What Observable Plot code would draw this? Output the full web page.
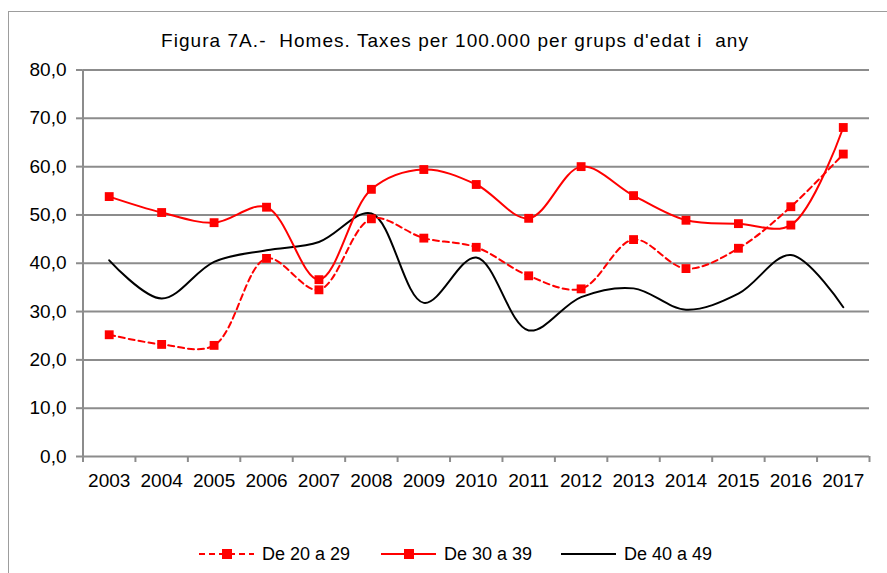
<!DOCTYPE html>
<html>
<head>
<meta charset="utf-8">
<script src="https://cdn.jsdelivr.net/npm/d3@7"></script>
<script src="https://cdn.jsdelivr.net/npm/@observablehq/plot@0.6"></script>
<style>
  html, body { margin: 0; padding: 0; background: #fff; }
  body { font-family: "Liberation Sans", Arial, sans-serif; }
  #wrap { position: relative; width: 887px; height: 573px; overflow: hidden; background: #fff; }
  #frame { position: absolute; left: 7.5px; top: 10.5px; width: 900px; height: 600px; border: 1.5px solid #9d9d9d; box-sizing: border-box; }
  #title { position: absolute; left: 0; top: 31px; width: 910px; text-align: center; font-size: 19px; line-height: 19px; letter-spacing: 1.05px; white-space: pre; color: #000; }
  #chart { position: absolute; left: 0; top: 0; }
  .leg { position: absolute; top: 544px; height: 20px; display: flex; align-items: center; font-size: 18px; white-space: pre; color: #000; }
  .leg svg { margin-right: 8px; }
</style>
</head>
<body>
<div id="wrap">
  <div id="frame"></div>
  <div id="chart"></div>
  <div id="title"></div>
  <div id="legend"></div>
</div>
<script>
const titleText = "Figura 7A.-  Homes. Taxes per 100.000 per grups d'edat i  any";
const years = [2003, 2004, 2005, 2006, 2007, 2008, 2009, 2010, 2011, 2012, 2013, 2014, 2015, 2016, 2017];
const s20_29 = [25.2, 23.2, 23.0, 41.0, 34.5, 49.2, 45.2, 43.3, 37.4, 34.7, 44.9, 38.9, 43.1, 51.7, 62.6];
const s30_39 = [53.8, 50.5, 48.4, 51.6, 36.6, 55.3, 59.4, 56.3, 49.3, 60.0, 54.0, 48.9, 48.2, 47.9, 68.1];
const s40_49 = [40.6, 32.7, 40.3, 42.7, 44.4, 50.3, 31.8, 41.2, 26.1, 33.0, 34.8, 30.4, 33.7, 41.7, 30.9];
const seriesNames = ["De 20 a 29", "De 30 a 39", "De 40 a 49"];
const yTicks = [0, 10, 20, 30, 40, 50, 60, 70, 80];

const toRows = (vals) => years.map((yr, i) => ({year: yr, value: vals[i]}));
const d20 = toRows(s20_29);
const d30 = toRows(s30_39);
const d40 = toRows(s40_49);
const bounds = [years[0] - 0.5, ...years.map(y => y + 0.5)];

const gray = "#8c8c8c";
const red = "#ff0000";

document.getElementById("title").textContent = titleText;

const plot = Plot.plot({
  width: 887,
  height: 500,
  marginLeft: 82.5,
  marginRight: 18,
  marginTop: 69.5,
  marginBottom: 44,
  style: { fontFamily: "'Liberation Sans', Arial, sans-serif", color: "#000", background: "transparent" },
  x: { type: "linear", domain: [bounds[0], bounds[bounds.length - 1]], axis: null, label: null },
  y: { domain: [0, 80], axis: null, label: null },
  marks: [
    Plot.ruleY(yTicks, { stroke: gray, strokeWidth: 2 }),
    Plot.ruleX([bounds[0]], { stroke: gray, strokeWidth: 2 }),
    Plot.axisY({ ticks: yTicks, label: null, tickSize: 6.5, tickPadding: 10, stroke: gray, strokeWidth: 2, fill: "#000", fontSize: 19,
      tickFormat: d => d.toFixed(1).replace(".", ",") }),
    Plot.axisX({ ticks: bounds, label: null, tickSize: 6, tickPadding: 0, stroke: gray, strokeWidth: 2, tickFormat: () => "" }),
    Plot.axisX({ ticks: years, label: null, tickSize: 0, tickPadding: 16.5, fill: "#000", fontSize: 19, tickFormat: d => String(d) }),
    Plot.line(d40, { x: "year", y: "value", stroke: "#000", strokeWidth: 2, curve: "catmull-rom" }),
    Plot.line(d20, { x: "year", y: "value", stroke: red, strokeWidth: 2, strokeDasharray: "6,4", curve: "catmull-rom" }),
    Plot.line(d30, { x: "year", y: "value", stroke: red, strokeWidth: 2, curve: "catmull-rom" }),
    Plot.dot(d20, { x: "year", y: "value", symbol: "square", r: 5, fill: red, stroke: "none" }),
    Plot.dot(d30, { x: "year", y: "value", symbol: "square", r: 5, fill: red, stroke: "none" })
  ]
});
document.getElementById("chart").appendChild(plot);

// Legend
const legendSpecs = [
  { name: seriesNames[0], left: 199, color: red, dash: "6,4", marker: true },
  { name: seriesNames[1], left: 381, color: red, dash: null, marker: true },
  { name: seriesNames[2], left: 561, color: "#000", dash: null, marker: false }
];
const legend = document.getElementById("legend");
legendSpecs.forEach(s => {
  const div = document.createElement("div");
  div.className = "leg";
  div.style.left = s.left + "px";
  const svg = d3.create("svg").attr("width", 55).attr("height", 20);
  svg.append("line").attr("x1", 0).attr("x2", 55).attr("y1", 10).attr("y2", 10)
    .attr("stroke", s.color).attr("stroke-width", 2).attr("stroke-dasharray", s.dash);
  if (s.marker) svg.append("rect").attr("x", 23).attr("y", 5).attr("width", 10).attr("height", 10).attr("fill", s.color);
  div.appendChild(svg.node());
  const span = document.createElement("span");
  span.textContent = s.name;
  div.appendChild(span);
  legend.appendChild(div);
});
</script>
</body>
</html>
